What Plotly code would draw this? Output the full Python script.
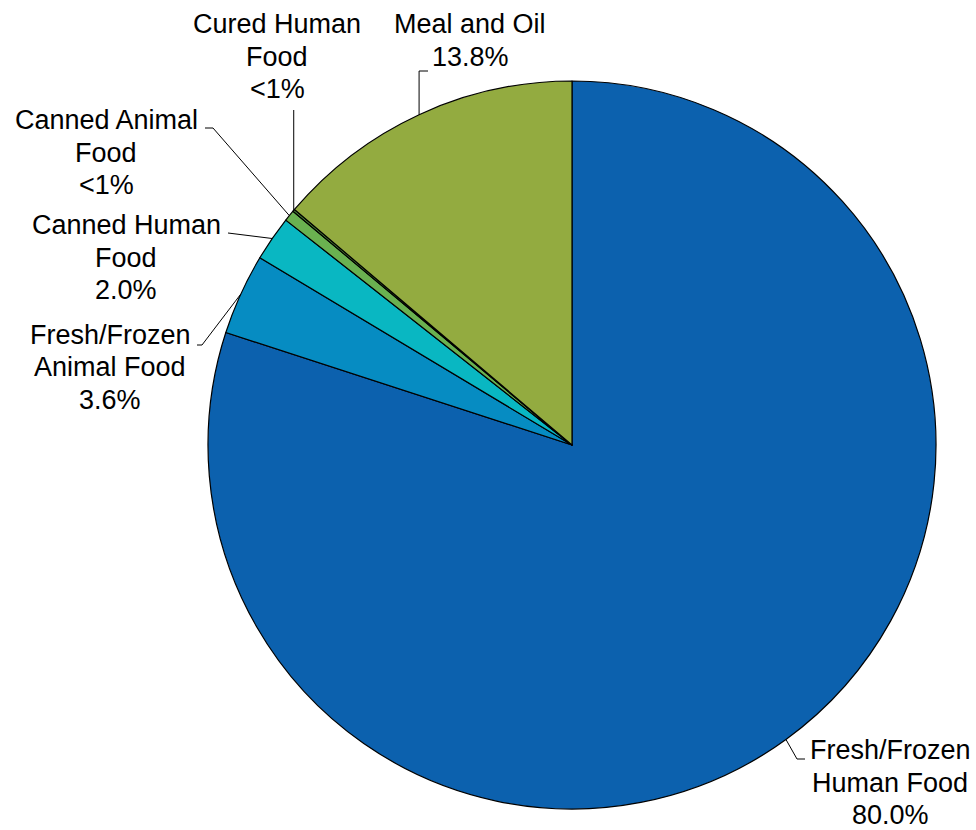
import math
import plotly.graph_objects as go

# Product share by category (percent)
categories = [
    "Fresh/Frozen Human Food",
    "Fresh/Frozen Animal Food",
    "Canned Human Food",
    "Canned Animal Food",
    "Cured Human Food",
    "Meal and Oil",
]
shares = [80.0, 3.6, 2.0, 0.5, 0.1, 13.8]
share_labels = ["80.0%", "3.6%", "2.0%", "<1%", "<1%", "13.8%"]
name_lines = [
    ["Fresh/Frozen", "Human Food"],
    ["Fresh/Frozen", "Animal Food"],
    ["Canned Human", "Food"],
    ["Canned Animal", "Food"],
    ["Cured Human", "Food"],
    ["Meal and Oil"],
]
colors = ["#0c61ae", "#068cc2", "#09b7c2", "#6ab150", "#4f8f3a", "#93ab40"]

W, H = 976, 830
# pie box in pixels (left, top, right, bottom)
PIE_BOX = (208, 81, 936, 809)

# label block: centre x, first line centre y (pixels); leader elbow/end points
label_pos = [
    (890, 750),
    (110, 335),
    (126, 225),
    (106, 120),
    (277, 24),
    (470, 24),
]
leader_pts = [
    [(797, 759), (805, 759)],
    [(202, 345), (197, 345)],
    [(228, 233)],
    [(213, 128), (205, 128)],
    [None],          # straight up to the label
    [(None, 71), (428, 71)],
]
leader_top = {4: 110}
LINE_GAP = 32.5
FONT = dict(family="Liberation Sans, Arial, sans-serif", size=27, color="#000000")


def px(x):
    return x / W


def py(y):
    return 1 - y / H


fig = go.Figure(
    go.Pie(
        labels=categories,
        values=shares,
        sort=False,
        direction="clockwise",
        rotation=0,
        marker=dict(colors=colors, line=dict(color="#000000", width=1.2)),
        textinfo="none",
        hoverinfo="label+percent",
        domain=dict(x=[px(PIE_BOX[0]), px(PIE_BOX[2])],
                    y=[py(PIE_BOX[3]), py(PIE_BOX[1])]),
        showlegend=False,
    )
)

cx = (PIE_BOX[0] + PIE_BOX[2]) / 2
cy = (PIE_BOX[1] + PIE_BOX[3]) / 2
r = min(PIE_BOX[2] - PIE_BOX[0], PIE_BOX[3] - PIE_BOX[1]) / 2
total = sum(shares)

annotations = []
shapes = []
cum = 0.0
for i, v in enumerate(shares):
    mid = 2 * math.pi * (cum + v / 2) / total
    cum += v
    sx = cx + r * math.sin(mid)
    sy = cy - r * math.cos(mid)

    # leader line from slice edge to the label
    pts = [(sx, sy)]
    for p in leader_pts[i]:
        if p is None:
            pts.append((sx, leader_top[i]))
        elif p[0] is None:
            pts.append((sx, p[1]))
        else:
            pts.append(p)
    path = "M {} {}".format(px(pts[0][0]), py(pts[0][1]))
    for (qx, qy) in pts[1:]:
        path += " L {} {}".format(px(qx), py(qy))
    shapes.append(dict(type="path", path=path, xref="paper", yref="paper",
                       line=dict(color="#000000", width=1)))

    # label text, one annotation per line
    lx, ly = label_pos[i]
    for k, txt in enumerate(name_lines[i] + [share_labels[i]]):
        annotations.append(dict(
            text=txt, x=px(lx), y=py(ly + k * LINE_GAP),
            xref="paper", yref="paper", xanchor="center", yanchor="middle",
            showarrow=False, font=FONT,
        ))

fig.update_layout(
    width=W, height=H,
    margin=dict(l=0, r=0, t=0, b=0),
    paper_bgcolor="#ffffff",
    plot_bgcolor="#ffffff",
    annotations=annotations,
    shapes=shapes,
)

fig.write_html("out.html")
